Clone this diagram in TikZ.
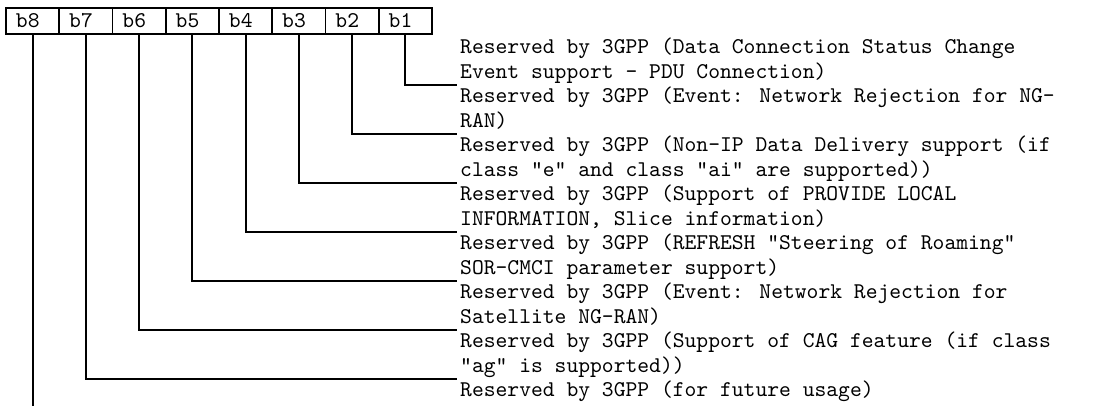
\documentclass[tikz,border=0pt]{standalone}
\usepackage{fontspec}
\newfontfamily\bitfont{lmmono10-regular.otf}
\usetikzlibrary{positioning}

\tikzset{
  bitbox/.style={draw, line width=1.8pt, inner xsep=10pt, inner ysep=0pt, outer sep=0pt,
                 text width=33.25pt, align=left, minimum height=26pt,
                 font=\bitfont\fontsize{22.5}{18}\selectfont},
  desc/.style={anchor=base west, inner sep=0pt, font=\bitfont\fontsize{22.5}{18}\selectfont},
  conn/.style={line width=1.8pt}
}

\begin{document}
\begin{tikzpicture}[x=1pt, y=-1pt]
    \useasboundingbox (0,0) rectangle (1102,405);

    % The bit boxes
    \node[bitbox] (b8) at (32.6,21) {b8};
    \node[bitbox, right=0pt of b8] (b7) {b7};
    \node[bitbox, right=0pt of b7] (b6) {b6};
    \node[bitbox, right=0pt of b6] (b5) {b5};
    \node[bitbox, right=0pt of b5] (b4) {b4};
    \node[bitbox, right=0pt of b4] (b3) {b3};
    \node[bitbox, right=0pt of b3] (b2) {b2};
    \node[bitbox, right=0pt of b2] (b1) {b1};

    % Descriptions
    \node[desc] (t1) at (460,53.5) {Reserved by 3GPP (Data Connection Status Change};
    \node[desc] (t1b) at (460,78) {Event support – PDU Connection)};
    \node[desc] (t2) at (460,102.5) {Reserved by 3GPP (Event: Network Rejection for NG-};
    \node[desc] (t2b) at (460,127) {RAN)};
    \node[desc] (t3) at (460,151.5) {Reserved by 3GPP (Non-IP Data Delivery support (if};
    \node[desc] (t3b) at (460,176) {class "e" and class "ai" are supported))};
    \node[desc] (t4) at (460,200.5) {Reserved by 3GPP (Support of PROVIDE LOCAL};
    \node[desc] (t4b) at (460,225) {INFORMATION, Slice information)};
    \node[desc] (t5) at (460,249.5) {Reserved by 3GPP (REFRESH "Steering of Roaming”};
    \node[desc] (t5b) at (460,274) {SOR-CMCI parameter support)};
    \node[desc] (t6) at (460,298.5) {Reserved by 3GPP (Event: Network Rejection for};
    \node[desc] (t6b) at (460,323) {Satellite NG-RAN)};
    \node[desc] (t7) at (460,347.5) {Reserved by 3GPP (Support of CAG feature (if class};
    \node[desc] (t7b) at (460,372) {"ag" is supported))};
    \node[desc] (t8) at (460,396.5) {Reserved by 3GPP (for future usage)};

    % Line ends
    \coordinate (e1) at (457,85);
    \coordinate (e2) at (457,134);
    \coordinate (e3) at (457,183);
    \coordinate (e4) at (457,232);
    \coordinate (e5) at (457,281);
    \coordinate (e6) at (457,330);
    \coordinate (e7) at (457,379);
    \coordinate (e8) at (32.6,406);

    % Connectors
    \draw[conn] (b1.south) |- (e1);
    \draw[conn] (b2.south) |- (e2);
    \draw[conn] (b3.south) |- (e3);
    \draw[conn] (b4.south) |- (e4);
    \draw[conn] (b5.south) |- (e5);
    \draw[conn] (b6.south) |- (e6);
    \draw[conn] (b7.south) |- (e7);
    \draw[conn] (b8.south) -- (e8);

\end{tikzpicture}
\end{document}
